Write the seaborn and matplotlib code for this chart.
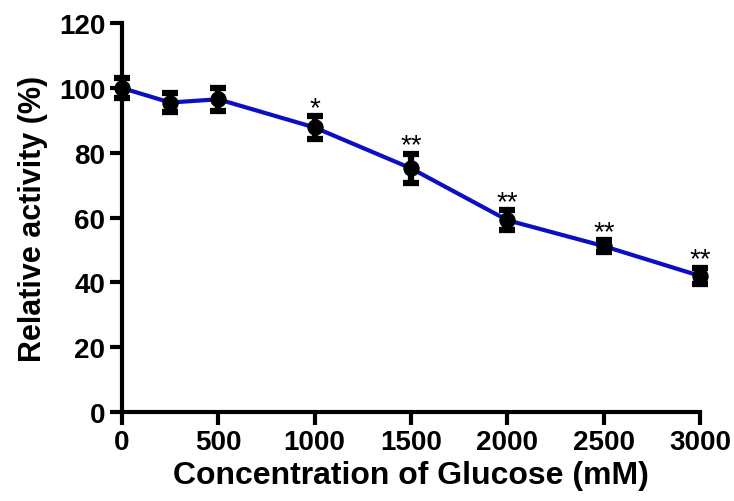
import numpy as np
import pandas as pd
import seaborn as sns
import matplotlib.pyplot as plt

# ----------------------------------------------------------
# Data
# ----------------------------------------------------------
glucose = [0, 250, 500, 1000, 1500, 2000, 2500, 3000]
activity = [100, 95.5, 96.5, 87.8, 75.2, 59.2, 51.2, 42.0]
sd = [3.0, 2.8, 3.6, 3.5, 4.5, 3.0, 1.8, 2.5]
stars = ["", "", "", "*", "**", "**", "**", "**"]

df = pd.DataFrame({"glucose": glucose, "activity": activity, "sd": sd, "sig": stars})

sns.set_style("ticks")
plt.rcParams['font.family'] = ['Liberation Sans', 'DejaVu Sans']
plt.rcParams['font.weight'] = 'bold'
plt.rcParams['text.color'] = 'black'
plt.rcParams['axes.labelcolor'] = 'black'
plt.rcParams['xtick.color'] = 'black'
plt.rcParams['ytick.color'] = 'black'
plt.rcParams['axes.edgecolor'] = 'black'

fig = plt.figure(figsize=(7.34, 5.02), dpi=100)
ax = fig.add_axes([0.166, 0.177, 0.788, 0.775])

# Error bars first so the line and markers sit on top
ax.errorbar(df["glucose"], df["activity"], yerr=df["sd"], fmt='none',
            ecolor='black', elinewidth=4.5, capsize=6, capthick=4.5,
            zorder=2, clip_on=False)

sns.lineplot(data=df, x="glucose", y="activity", color='#0d0dc4', lw=3,
             marker='o', markersize=11, markerfacecolor='black',
             markeredgecolor='black', ax=ax, zorder=3, clip_on=False)

# Significance marks just above each error cap
for _, row in df.iterrows():
    if row["sig"]:
        ax.annotate(row["sig"], (row["glucose"], row["activity"] + row["sd"]),
                    xytext=(0, 1), textcoords='offset points',
                    ha='center', va='baseline', fontsize=20, fontweight='normal')

ax.set_xlim(0, 3000)
ax.set_ylim(0, 120)
ax.set_xticks(np.arange(0, 3001, 500))
ax.set_yticks(np.arange(0, 121, 20))
ax.set_xlabel("Concentration of Glucose (mM)", fontsize=23, fontweight='bold', labelpad=4)
ax.set_ylabel("Relative activity (%)", fontsize=22, fontweight='bold', labelpad=8)
ax.tick_params(labelsize=20, width=3, length=9, direction='out', pad=3)
for lab in ax.get_xticklabels() + ax.get_yticklabels():
    lab.set_fontweight('bold')

sns.despine(ax=ax)
for s in ['left', 'bottom']:
    ax.spines[s].set_linewidth(3)
ax.spines['left'].set_zorder(4)

fig.savefig("out.png", dpi=100)
